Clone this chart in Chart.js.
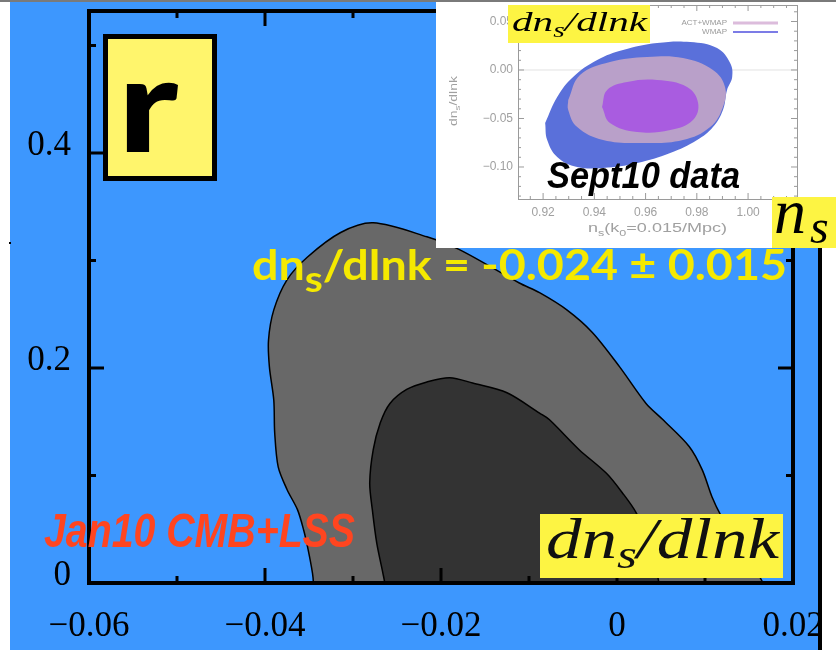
<!DOCTYPE html>
<html>
<head>
<meta charset="utf-8">
<script src="https://cdn.jsdelivr.net/npm/chart.js@4.4.1/dist/chart.umd.min.js"></script>
<style>
  html, body { margin: 0; padding: 0; background: #fff; }
  #wrap { position: relative; width: 836px; height: 650px; overflow: hidden; }
  #main { position: absolute; left: 0; top: 0; }
  #inset { position: absolute; left: 436px; top: 2px; filter: blur(0.6px); }
  #insetLabels { position: absolute; left: 436px; top: 0; }
</style>
</head>
<body>
<div id="wrap">
  <canvas id="main" width="836" height="650"></canvas>
  <canvas id="inset" width="400" height="246"></canvas>
  <canvas id="insetLabels" width="400" height="248"></canvas>
</div>
<script>
// ---- main panel: r versus dn_s/dlnk ----
const xTickValues = [-0.06, -0.04, -0.02, 0, 0.02];
const xTickLabels = ['\u22120.06', '\u22120.04', '\u22120.02', '0', '0.02'];
const xMinorValues = [-0.05, -0.03, -0.01, 0.01];
const yTickValues = [0, 0.2, 0.4];
const yTickLabels = ['0', '0.2', '0.4'];
const yMinorValues = [0.1, 0.3, 0.5];

// 95% region (outer, light grey); closed below r = 0 where the axis clips it
const outerX = [-0.0344, -0.0345, -0.0346, -0.0351, -0.0356, -0.0363, -0.0375, -0.0385, -0.0389, -0.0390,
                -0.0395, -0.0396, -0.0390, -0.0375, -0.0352, -0.0314, -0.0277, -0.0216, -0.0179, -0.0111,
                -0.0088, -0.0057, -0.0028, 0.0003, 0.0033, 0.0052, 0.0082, 0.0097, 0.0108, 0.0118,
                0.0139, 0.0166, 0.0180, -0.0344];
const outerY = [-0.030, 0.000, 0.009, 0.031, 0.049, 0.068, 0.087, 0.108, 0.140, 0.170,
                0.201, 0.226, 0.254, 0.282, 0.303, 0.326, 0.335, 0.322, 0.310, 0.279,
                0.270, 0.254, 0.233, 0.201, 0.167, 0.152, 0.127, 0.105, 0.080, 0.063,
                0.035, 0.000, -0.030, -0.030];

// 68% region (inner, dark grey)
const innerX = [-0.0263, -0.0264, -0.0266, -0.0273, -0.0278, -0.0281, -0.0277, -0.0269, -0.0258, -0.0239,
                -0.0216, -0.0190, -0.0164, -0.0125, -0.0088, -0.0077, -0.0043, -0.0012, 0.0006, 0.0022,
                0.0037, 0.0047, 0.0050, -0.0263];
const innerY = [-0.030, 0.000, 0.009, 0.037, 0.068, 0.093, 0.124, 0.149, 0.167, 0.180,
                0.187, 0.191, 0.186, 0.177, 0.158, 0.152, 0.124, 0.102, 0.084, 0.065,
                0.035, 0.003, -0.030, -0.030];

// ---- inset: dn_s/dlnk versus n_s ----
const insetXTicks = [0.92, 0.94, 0.96, 0.98, 1.00];
const insetXLabels = ['0.92', '0.94', '0.96', '0.98', '1.00'];
const insetYTicks = [0.05, 0.00, -0.05, -0.10];
const insetYLabels = ['0.05', '0.00', '\u22120.05', '\u22120.10'];

const wmapX = [0.9208, 0.9255, 0.9317, 0.9411, 0.9512, 0.9645, 0.9774, 0.9879, 0.9930, 0.9938,
               0.9918, 0.9902, 0.9863, 0.9801, 0.9696, 0.9567, 0.9434, 0.9333, 0.9255, 0.9216, 0.9208];
const wmapY = [-0.0546, -0.0278, -0.0072, 0.0103, 0.0206, 0.0278, 0.0289, 0.0227, 0.0072, -0.0072,
               -0.0206, -0.0412, -0.0588, -0.0722, -0.0856, -0.0959, -0.1010, -0.1000, -0.0897, -0.0722, -0.0546];

const actWmap95X = [0.9298, 0.9344, 0.9461, 0.9606, 0.9746, 0.9863, 0.9910, 0.9902, 0.9852, 0.9746,
                    0.9590, 0.9434, 0.9333, 0.9298, 0.9298];
const actWmap95Y = [-0.0309, -0.0052, 0.0082, 0.0134, 0.0124, 0.0000, -0.0175, -0.0381, -0.0588, -0.0722,
                    -0.0753, -0.0722, -0.0588, -0.0412, -0.0309];

const actWmap68X = [0.9430, 0.9450, 0.9528, 0.9645, 0.9762, 0.9805, 0.9785, 0.9696, 0.9567, 0.9461, 0.9430];
const actWmap68Y = [-0.0381, -0.0206, -0.0124, -0.0103, -0.0175, -0.0340, -0.0515, -0.0619, -0.0639, -0.0546, -0.0381];

const toPoints = (xs, ys) => xs.map((x, i) => ({ x, y: ys[i] }));

// keep the plot area exactly where the layout puts it (no room reserved for end labels)
const noEdgePadding = s => {
  s.paddingTop = 0; s.paddingBottom = 0; s.paddingLeft = 0; s.paddingRight = 0;
};

// text with subscripts, squeezed or stretched to a given width
function drawRich(ctx, parts, o) {
  const font = sz => `${o.style || 'normal'} ${o.weight || 'normal'} ${sz}px ${o.family}`;
  const subSize = o.size * (o.subScale || 0.7);
  let total = 0;
  const widths = parts.map(([t, sub]) => {
    ctx.font = font(sub ? subSize : o.size);
    const w = ctx.measureText(t).width;
    total += w;
    return w;
  });
  const sx = o.width ? o.width / total : 1;
  ctx.save();
  ctx.translate(o.x, o.baseline);
  if (o.rotate) ctx.rotate(o.rotate);
  ctx.scale(sx, 1);
  ctx.fillStyle = o.color;
  ctx.textAlign = 'left';
  ctx.textBaseline = 'alphabetic';
  let x = 0;
  parts.forEach(([t, sub], i) => {
    ctx.font = font(sub ? subSize : o.size);
    ctx.fillText(t, x, sub ? o.size * (o.subDrop || 0.2) : 0);
    x += widths[i];
  });
  ctx.restore();
}

const SERIF = "'Liberation Serif', 'DejaVu Serif', serif";
const NARROW = "'Liberation Sans Narrow', 'Liberation Sans', Arial, sans-serif";

const slideBackground = {
  id: 'slideBackground',
  beforeDraw(chart) {
    const c = chart.ctx;
    c.save();
    c.fillStyle = '#ffffff';
    c.fillRect(0, 0, 836, 650);
    c.fillStyle = '#3d97fe';
    c.fillRect(10, 2, 812, 648);
    c.fillStyle = '#7a7a7a';
    c.fillRect(0, 0, 836, 2);
    c.restore();
  }
};

const frameAndTicks = {
  id: 'frameAndTicks',
  afterDatasetsDraw(chart) {
    const c = chart.ctx;
    const { left, right, top, bottom } = chart.chartArea;
    const xs = chart.scales.x, ys = chart.scales.y;
    c.save();
    c.strokeStyle = '#000';
    c.lineWidth = 3;
    c.beginPath();
    const tick = (vals, len) => {
      vals.forEach(v => {
        const px = xs.getPixelForValue(v);
        c.moveTo(px, bottom); c.lineTo(px, bottom - len);
        c.moveTo(px, top); c.lineTo(px, top + len);
      });
    };
    const ytick = (vals, len) => {
      vals.forEach(v => {
        const py = ys.getPixelForValue(v);
        c.moveTo(left, py); c.lineTo(left + len, py);
        c.moveTo(right, py); c.lineTo(right - len, py);
      });
    };
    tick(xTickValues, 15); tick(xMinorValues, 7);
    ytick(yTickValues, 15); ytick(yMinorValues, 7);
    c.stroke();
    c.lineWidth = 4;
    c.strokeRect(left, top, right - left, bottom - top);
    c.restore();
  },
  afterDraw(chart) {
    const c = chart.ctx;
    c.save();
    // parameter label box
    c.fillStyle = '#fff56c';
    c.fillRect(105, 36, 110, 143);
    c.lineWidth = 5;
    c.strokeStyle = '#000';
    c.strokeRect(105.5, 36.5, 109, 142);
    c.font = "900 136px Lato, 'Liberation Sans', sans-serif";
    const m = c.measureText('r');
    const inkW = m.actualBoundingBoxLeft + m.actualBoundingBoxRight;
    const inkH = m.actualBoundingBoxAscent;
    c.save();
    c.translate(126, 152);
    c.scale(52 / inkW, 69 / inkH);
    c.fillStyle = '#000';
    c.textBaseline = 'alphabetic';
    c.fillText('r', m.actualBoundingBoxLeft, 0);
    c.restore();

    // measured running
    drawRich(c, [['dn', false], ['s', true], ['/dlnk = -0.024 \u00b1 0.015', false]], {
      x: 252, baseline: 280, width: 535, size: 42, subScale: 0.88, subDrop: 0.29,
      weight: 'bold', family: "Lato, 'Open Sans', sans-serif", color: '#f5e900'
    });

    // data set label
    drawRich(c, [['Jan10 CMB+LSS', false]], {
      x: 44, baseline: 547, width: 311, size: 48,
      style: 'italic', weight: 'bold', family: NARROW, color: '#ff4520'
    });

    // horizontal-axis name
    c.fillStyle = '#fdf443';
    c.fillRect(540, 514, 243, 64);
    drawRich(c, [['dn', false], ['s', true], ['/dlnk', false]], {
      x: 546, baseline: 558, width: 233, size: 56, subScale: 0.72, subDrop: 0.17,
      style: 'italic', family: SERIF, color: '#111'
    });

    // inset backing, right edge of the slide
    c.fillStyle = '#ffffff';
    c.fillRect(436, 2, 400, 246);
    c.fillRect(822, 248, 14, 402);
    c.fillStyle = '#000';
    c.fillRect(818, 248, 4, 402);
    c.fillRect(9, 242, 2, 2);
    c.restore();
  }
};

new Chart(document.getElementById('main'), {
  type: 'scatter',
  data: {
    datasets: [
      { label: '68%', data: toPoints(innerX, innerY), showLine: true, fill: 'shape',
        backgroundColor: '#333333', borderColor: '#000', borderWidth: 1.5,
        pointRadius: 0, tension: 0.3, order: 0 },
      { label: '95%', data: toPoints(outerX, outerY), showLine: true, fill: 'shape',
        backgroundColor: '#686868', borderColor: '#000', borderWidth: 1.5,
        pointRadius: 0, tension: 0.3, order: 1 }
    ]
  },
  options: {
    responsive: false,
    animation: false,
    devicePixelRatio: 1,
    layout: { padding: { left: 0, right: 43, top: 11, bottom: 0 } },
    plugins: { legend: { display: false }, tooltip: { enabled: false } },
    scales: {
      x: {
        type: 'linear', position: 'bottom', min: -0.06, max: 0.02,
        afterBuildTicks: s => { s.ticks = xTickValues.map(v => ({ value: v })); },
        afterFit: s => { s.height = 67; noEdgePadding(s); },
        grid: { display: false, drawTicks: false },
        border: { display: false },
        ticks: {
          autoSkip: false, maxRotation: 0, padding: 23, color: '#000',
          font: { family: SERIF, size: 35 },
          callback: v => xTickLabels[xTickValues.indexOf(v)]
        }
      },
      y: {
        type: 'linear', position: 'left', min: 0, max: 0.532,
        afterBuildTicks: s => { s.ticks = yTickValues.map(v => ({ value: v })); },
        afterFit: s => { s.width = 89; noEdgePadding(s); },
        grid: { display: false, drawTicks: false },
        border: { display: false },
        ticks: {
          autoSkip: false, padding: 18, labelOffset: -7, color: '#000',
          font: { family: SERIF, size: 35 },
          callback: v => yTickLabels[yTickValues.indexOf(v)]
        }
      }
    }
  },
  plugins: [slideBackground, frameAndTicks]
});

// ---- inset chart ----
const insetDecor = {
  id: 'insetDecor',
  beforeDraw(chart) {
    const c = chart.ctx;
    c.save();
    c.fillStyle = '#ffffff';
    c.fillRect(0, 0, chart.width, chart.height);
    c.restore();
  },
  beforeDatasetsDraw(chart) {
    const c = chart.ctx;
    const { left, right } = chart.chartArea;
    const py = chart.scales.y.getPixelForValue(0);
    c.save();
    c.strokeStyle = '#e2e2e2';
    c.lineWidth = 1;
    c.beginPath();
    c.moveTo(left, py); c.lineTo(right, py);
    c.stroke();
    c.restore();
  },
  afterDraw(chart) {
    const c = chart.ctx;
    const { left, right, top, bottom } = chart.chartArea;
    const xs = chart.scales.x, ys = chart.scales.y;
    c.save();
    c.strokeStyle = '#9a9a9a';
    c.lineWidth = 1;
    c.strokeRect(left + 0.5, top + 0.5, right - left, bottom - top);
    c.beginPath();
    for (let v = 0.915; v < 1.019; v += 0.005) {
      const px = xs.getPixelForValue(v);
      const len = Math.abs(Math.round(v * 100) - v * 100) < 1e-6 && Math.round(v * 100) % 2 === 0 ? 6 : 3;
      c.moveTo(px, bottom); c.lineTo(px, bottom - len);
      c.moveTo(px, top); c.lineTo(px, top + len);
    }
    for (let v = -0.13; v < 0.067; v += 0.01) {
      const py = ys.getPixelForValue(v);
      const len = Math.abs(Math.round(v * 20) - v * 20) < 1e-6 ? 6 : 3;
      c.moveTo(left, py); c.lineTo(left + len, py);
      c.moveTo(right, py); c.lineTo(right - len, py);
    }
    c.stroke();

    // legend
    c.font = "8px 'Liberation Sans', sans-serif";
    c.fillStyle = '#9a9a9a';
    c.textAlign = 'right';
    c.textBaseline = 'middle';
    c.fillText('ACT+WMAP', 291, 21);
    c.fillText('WMAP', 291, 30);
    c.lineWidth = 3;
    c.strokeStyle = '#dcbcdc';
    c.beginPath(); c.moveTo(297, 21); c.lineTo(342, 21); c.stroke();
    c.lineWidth = 2;
    c.strokeStyle = '#7c7ce6';
    c.beginPath(); c.moveTo(297, 30); c.lineTo(342, 30); c.stroke();

    // axis titles
    drawRich(c, [['n', false], ['s', true], ['(k', false], ['0', true], ['=0.015/Mpc)', false]], {
      x: 152, baseline: 230, width: 139, size: 12, subDrop: 0.3,
      family: "'Liberation Sans', sans-serif", color: '#a0a0a0'
    });
    drawRich(c, [['dn', false], ['s', true], ['/dlnk', false]], {
      x: 21, baseline: 124, width: 50, size: 11, subDrop: 0.3, rotate: -Math.PI / 2,
      family: "'Liberation Sans', sans-serif", color: '#a0a0a0'
    });
    c.restore();
  }
};

new Chart(document.getElementById('inset'), {
  type: 'scatter',
  data: {
    datasets: [
      { label: 'ACT+WMAP 68%', data: toPoints(actWmap68X, actWmap68Y), showLine: true, fill: 'shape',
        backgroundColor: '#a95ce0', borderWidth: 0, pointRadius: 0, tension: 0.4, order: 0 },
      { label: 'ACT+WMAP 95%', data: toPoints(actWmap95X, actWmap95Y), showLine: true, fill: 'shape',
        backgroundColor: '#b9a0c9', borderWidth: 0, pointRadius: 0, tension: 0.4, order: 1 },
      { label: 'WMAP', data: toPoints(wmapX, wmapY), showLine: true, fill: 'shape',
        backgroundColor: '#5a70da', borderWidth: 0, pointRadius: 0, tension: 0.4, order: 2 }
    ]
  },
  options: {
    responsive: false,
    animation: false,
    devicePixelRatio: 1,
    layout: { padding: { left: 0, right: 39, top: 3, bottom: 0 } },
    plugins: { legend: { display: false }, tooltip: { enabled: false } },
    scales: {
      x: {
        type: 'linear', min: 0.9102, max: 1.0191,
        afterBuildTicks: s => { s.ticks = insetXTicks.map(v => ({ value: v })); },
        afterFit: s => { s.height = 49; noEdgePadding(s); },
        grid: { display: false, drawTicks: false },
        border: { display: false },
        ticks: {
          autoSkip: false, maxRotation: 0, padding: 6, color: '#a0a0a0',
          font: { family: "'Liberation Sans', sans-serif", size: 12 },
          callback: v => insetXLabels[insetXTicks.indexOf(v)]
        }
      },
      y: {
        type: 'linear', min: -0.133, max: 0.067,
        afterBuildTicks: s => { s.ticks = insetYTicks.map(v => ({ value: v })); },
        afterFit: s => { s.width = 82; noEdgePadding(s); },
        grid: { display: false, drawTicks: false },
        border: { display: false },
        ticks: {
          autoSkip: false, padding: 5, color: '#a0a0a0',
          font: { family: "'Liberation Sans', sans-serif", size: 12 },
          callback: v => insetYLabels[insetYTicks.indexOf(v)]
        }
      }
    }
  },
  plugins: [insetDecor]
});

// ---- sharp labels laid over the inset ----
(function () {
  const c = document.getElementById('insetLabels').getContext('2d');
  c.fillStyle = '#fdf443';
  c.fillRect(72, 5, 142, 38);
  drawRich(c, [['dn', false], ['s', true], ['/dlnk', false]], {
    x: 76, baseline: 31, width: 135, size: 28, subScale: 0.72, subDrop: 0.22,
    style: 'italic', family: SERIF, color: '#000'
  });
  drawRich(c, [['Sept10 data', false]], {
    x: 111, baseline: 188, width: 193, size: 36,
    style: 'italic', weight: 'bold', family: NARROW, color: '#000'
  });
  c.fillStyle = '#fdf443';
  c.fillRect(336, 197, 64, 51);
  c.fillStyle = '#000';
  c.textBaseline = 'alphabetic';
  c.font = `italic 64px ${SERIF}`;
  c.fillText('n', 338, 233);
  c.font = `italic 48px ${SERIF}`;
  c.fillText('s', 374, 243);
})();
</script>
</body>
</html>
